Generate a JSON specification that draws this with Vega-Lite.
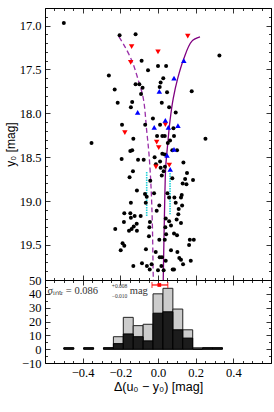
{
"$schema": "https://vega.github.io/schema/vega-lite/v6.json",
"padding": {"left": 3, "top": 7, "right": 4, "bottom": 5},
"background": "white",
"spacing": 0,
"bounds": "flush",
"config": {
  "view": {"stroke": "#000", "strokeWidth": 1},
  "axis": {"domain": false, "grid": false, "labelFont": "Liberation Serif", "labelFontSize": 12.5, "labelColor": "#000", "tickColor": "#000", "tickWidth": 0.8, "titleFont": "Liberation Sans", "titleFontWeight": "normal", "titleFontSize": 12, "titleColor": "#000", "labelOverlap": false, "labelFlush": false}
},
"datasets": {
  "dots": [
    {"x": -0.5, "y": 16.97}, {"x": -0.204, "y": 17.11}, {"x": -0.119, "y": 17.1}, {"x": 0.326, "y": 17.34}, {"x": -0.087, "y": 17.4}, {"x": -0.053, "y": 17.51}, {"x": 0.0, "y": 17.46}, {"x": 0.043, "y": 17.46}, {"x": -0.261, "y": 17.57}, {"x": 0.028, "y": 17.6}, {"x": 0.014, "y": 17.65}, {"x": -0.119, "y": 17.67}, {"x": -0.099, "y": 17.67}, {"x": -0.082, "y": 17.71}, {"x": 0.009, "y": 17.7}, {"x": -0.23, "y": 17.73}, {"x": -0.09, "y": 17.78}, {"x": 0.048, "y": 17.76}, {"x": 0.179, "y": 17.75}, {"x": -0.214, "y": 17.88}, {"x": -0.137, "y": 17.87}, {"x": 0.02, "y": 17.88}, {"x": -0.144, "y": 17.93}, {"x": 0.059, "y": 17.93}, {"x": 0.094, "y": 17.99}, {"x": -0.191, "y": 18.13}, {"x": -0.068, "y": 18.13}, {"x": -0.027, "y": 18.06}, {"x": 0.011, "y": 18.13}, {"x": 0.082, "y": 18.17}, {"x": -0.353, "y": 18.34}, {"x": 0.252, "y": 18.29}, {"x": -0.131, "y": 18.29}, {"x": -0.005, "y": 18.26}, {"x": 0.023, "y": 18.26}, {"x": 0.036, "y": 18.26}, {"x": 0.085, "y": 18.26}, {"x": 0.064, "y": 18.31}, {"x": 0.052, "y": 18.34}, {"x": -0.137, "y": 18.42}, {"x": -0.147, "y": 18.43}, {"x": 0.076, "y": 18.42}, {"x": 0.101, "y": 18.42}, {"x": 0.023, "y": 18.46}, {"x": 0.036, "y": 18.47}, {"x": -0.193, "y": 18.52}, {"x": -0.106, "y": 18.53}, {"x": -0.076, "y": 18.53}, {"x": -0.018, "y": 18.5}, {"x": 0.011, "y": 18.55}, {"x": 0.135, "y": 18.56}, {"x": -0.011, "y": 18.58}, {"x": 0.037, "y": 18.61}, {"x": 0.014, "y": 18.62}, {"x": 0.03, "y": 18.66}, {"x": -0.133, "y": 18.66}, {"x": 0.154, "y": 18.68}, {"x": -0.151, "y": 18.73}, {"x": 0.02, "y": 18.71}, {"x": 0.076, "y": 18.74}, {"x": 0.144, "y": 18.75}, {"x": 0.186, "y": 18.76}, {"x": -0.041, "y": 18.77}, {"x": 0.131, "y": 18.8}, {"x": 0.151, "y": 18.81}, {"x": -0.112, "y": 18.88}, {"x": -0.069, "y": 18.92}, {"x": -0.021, "y": 18.91}, {"x": 0.05, "y": 18.91}, {"x": 0.126, "y": 18.93}, {"x": -0.06, "y": 18.95}, {"x": 0.059, "y": 18.96}, {"x": 0.087, "y": 18.96}, {"x": 0.122, "y": 18.96}, {"x": -0.144, "y": 19.02}, {"x": -0.065, "y": 19.02}, {"x": 0.007, "y": 19.05}, {"x": 0.094, "y": 19.02}, {"x": 0.128, "y": 19.05}, {"x": -0.007, "y": 19.11}, {"x": 0.11, "y": 19.09}, {"x": -0.179, "y": 19.14}, {"x": -0.147, "y": 19.14}, {"x": -0.124, "y": 19.17}, {"x": -0.092, "y": 19.17}, {"x": -0.144, "y": 19.19}, {"x": 0.108, "y": 19.15}, {"x": 0.041, "y": 19.2}, {"x": 0.059, "y": 19.23}, {"x": 0.099, "y": 19.21}, {"x": -0.181, "y": 19.24}, {"x": -0.113, "y": 19.26}, {"x": -0.043, "y": 19.24}, {"x": 0.122, "y": 19.25}, {"x": -0.129, "y": 19.29}, {"x": -0.227, "y": 19.32}, {"x": -0.154, "y": 19.34}, {"x": -0.14, "y": 19.32}, {"x": -0.112, "y": 19.34}, {"x": 0.039, "y": 19.3}, {"x": 0.069, "y": 19.28}, {"x": -0.046, "y": 19.3}, {"x": 0.085, "y": 19.37}, {"x": 0.101, "y": 19.39}, {"x": 0.043, "y": 19.38}, {"x": -0.048, "y": 19.4}, {"x": 0.007, "y": 19.44}, {"x": 0.036, "y": 19.44}, {"x": 0.169, "y": 19.44}, {"x": 0.19, "y": 19.44}, {"x": 0.165, "y": 19.5}, {"x": -0.188, "y": 19.48}, {"x": -0.179, "y": 19.51}, {"x": -0.198, "y": 19.56}, {"x": -0.064, "y": 19.55}, {"x": 0.069, "y": 19.56}, {"x": -0.012, "y": 19.58}, {"x": 0.103, "y": 19.58}, {"x": 0.021, "y": 19.64}, {"x": 0.009, "y": 19.64}, {"x": 0.113, "y": 19.65}, {"x": 0.122, "y": 19.67}, {"x": 0.041, "y": 19.68}, {"x": 0.174, "y": 19.68}, {"x": -0.085, "y": 19.71}, {"x": -0.034, "y": 19.72}, {"x": 0.133, "y": 19.72}, {"x": -0.131, "y": 19.74}, {"x": -0.059, "y": 19.74}, {"x": 0.018, "y": 19.74}, {"x": 0.078, "y": 19.78}, {"x": 0.085, "y": 19.78}, {"x": 0.0, "y": 19.79}, {"x": -0.044, "y": 19.78}, {"x": 0.03, "y": 19.79}
  ],
  "red": [
    {"x": 0.158, "y": 17.12}, {"x": -0.14, "y": 17.24}, {"x": 0.0, "y": 17.3}, {"x": -0.145, "y": 17.42}, {"x": -0.176, "y": 18.22}, {"x": 0.039, "y": 18.13}, {"x": -0.007, "y": 18.33}, {"x": 0.004, "y": 18.39}, {"x": 0.06, "y": 18.59}, {"x": -0.011, "y": 18.61}
  ],
  "blue": [
    {"x": 0.137, "y": 17.4}, {"x": 0.085, "y": 17.6}, {"x": 0.007, "y": 17.75}, {"x": -0.108, "y": 17.99}, {"x": 0.039, "y": 18.08}, {"x": -0.02, "y": 18.16}, {"x": 0.055, "y": 18.16}, {"x": 0.106, "y": 18.14}, {"x": 0.085, "y": 18.41}, {"x": 0.048, "y": 18.48}, {"x": 0.065, "y": 18.64}
  ],
  "dashed": [
    {"x": -0.207, "y": 17.13}, {"x": -0.176, "y": 17.24}, {"x": -0.137, "y": 17.41}, {"x": -0.105, "y": 17.62}, {"x": -0.078, "y": 17.83}, {"x": -0.06, "y": 18.2}, {"x": -0.048, "y": 18.46}, {"x": -0.037, "y": 18.84}, {"x": -0.03, "y": 19.26}, {"x": -0.025, "y": 19.87}, {"x": -0.024, "y": 19.9}
  ],
  "solid": [
    {"x": 0.223, "y": 17.13}, {"x": 0.179, "y": 17.18}, {"x": 0.135, "y": 17.39}, {"x": 0.105, "y": 17.6}, {"x": 0.081, "y": 17.83}, {"x": 0.064, "y": 18.08}, {"x": 0.052, "y": 18.34}, {"x": 0.041, "y": 18.61}, {"x": 0.037, "y": 18.88}, {"x": 0.034, "y": 19.18}, {"x": 0.028, "y": 19.87}, {"x": 0.028, "y": 19.9}
  ],
  "cyan": [
    {"x": -0.06, "y1": 18.67, "y2": 19.17}, {"x": 0.064, "y1": 18.68, "y2": 19.15}
  ],
  "hist": [
    {"x0": -0.5, "x1": -0.44737, "total": 1, "dark": 1},
    {"x0": -0.39474, "x1": -0.34211, "total": 1, "dark": 1},
    {"x0": -0.28947, "x1": -0.23684, "total": 1, "dark": 1},
    {"x0": -0.23684, "x1": -0.18421, "total": 9, "dark": 4},
    {"x0": -0.18421, "x1": -0.13158, "total": 23, "dark": 11},
    {"x0": -0.13158, "x1": -0.07895, "total": 17, "dark": 9},
    {"x0": -0.07895, "x1": -0.02632, "total": 18, "dark": 6},
    {"x0": -0.02632, "x1": 0.02632, "total": 40, "dark": 26},
    {"x0": 0.02632, "x1": 0.07895, "total": 44, "dark": 27},
    {"x0": 0.07895, "x1": 0.13158, "total": 29, "dark": 14},
    {"x0": 0.13158, "x1": 0.18421, "total": 14, "dark": 8},
    {"x0": 0.18421, "x1": 0.23684, "total": 1, "dark": 0},
    {"x0": 0.23684, "x1": 0.28947, "total": 1, "dark": 1},
    {"x0": 0.28947, "x1": 0.34211, "total": 1, "dark": 1}
  ],
  "err": [{"x": 0.007, "lo": -0.032, "hi": 0.052, "y": 46.4}],
  "notes": [
    {"x": -0.587, "y": 42, "part": "main", "text": "σᵢₙₜᵣ = 0.086"},
    {"x": -0.245, "y": 42, "part": "sup", "text": "+0.008"},
    {"x": -0.245, "y": 42, "part": "sub", "text": "−0.010"},
    {"x": -0.15, "y": 42, "part": "unit", "text": "mag"}
  ]
},
"vconcat": [
  {
    "width": 226, "height": 272,
    "resolve": {"axis": {"x": "independent", "y": "independent"}},
    "layer": [
      {
        "mark": {"type": "rule", "color": "#808080", "strokeWidth": 1.5},
        "encoding": {"x": {"datum": 0, "type": "quantitative", "axis": null, "scale": {"domain": [-0.6, 0.6], "nice": false, "zero": false}}}
      },
      {
        "data": {"name": "cyan"},
        "mark": {"type": "rule", "color": "#20d0d8", "strokeWidth": 1.6, "strokeDash": [1.5, 1]},
        "encoding": {
          "x": {"field": "x", "type": "quantitative", "scale": {"domain": [-0.6, 0.6], "nice": false, "zero": false},
            "axis": {"orient": "top", "labels": false, "title": null, "tickSize": -2.5, "values": [-0.55,-0.5,-0.45,-0.35,-0.3,-0.25,-0.15,-0.1,-0.05,0.05,0.1,0.15,0.25,0.3,0.35,0.45,0.5,0.55]}},
          "y": {"field": "y1", "type": "quantitative", "scale": {"domain": [16.8, 19.9], "nice": false, "zero": false, "reverse": true},
            "axis": {"orient": "right", "labels": false, "title": null, "tickSize": -2.5, "values": [16.8,16.9,17.1,17.2,17.3,17.4,17.6,17.7,17.8,17.9,18.1,18.2,18.3,18.4,18.6,18.7,18.8,18.9,19.1,19.2,19.3,19.4,19.6,19.7,19.8,19.9]}},
          "y2": {"field": "y2"}
        }
      },
      {
        "data": {"name": "dashed"},
        "mark": {"type": "line", "color": "#9a2fa8", "strokeWidth": 1.3, "strokeDash": [5, 3], "interpolate": "catmull-rom"},
        "encoding": {
          "x": {"field": "x", "type": "quantitative", "axis": null},
          "y": {"field": "y", "type": "quantitative", "axis": null},
          "order": {"field": "y", "type": "quantitative"}
        }
      },
      {
        "data": {"name": "solid"},
        "mark": {"type": "line", "color": "#800080", "strokeWidth": 1.3, "interpolate": "catmull-rom"},
        "encoding": {
          "x": {"field": "x", "type": "quantitative", "axis": null},
          "y": {"field": "y", "type": "quantitative", "axis": null},
          "order": {"field": "y", "type": "quantitative"}
        }
      },
      {
        "data": {"name": "dots"},
        "mark": {"type": "circle", "color": "#000", "size": 16, "opacity": 1},
        "encoding": {
          "x": {"field": "x", "type": "quantitative",
            "axis": {"orient": "bottom", "labels": false, "title": null, "tickSize": -5, "values": [-0.6,-0.4,-0.2,0,0.2,0.4,0.6]}},
          "y": {"field": "y", "type": "quantitative",
            "axis": {"orient": "left", "title": "y₀ [mag]", "titlePadding": 2, "format": ".1f", "tickSize": -5, "labelPadding": 9, "values": [17.0,17.5,18.0,18.5,19.0,19.5]}}
        }
      },
      {
        "data": {"name": "red"},
        "mark": {"type": "point", "shape": "triangle-down", "filled": true, "color": "#ff0000", "size": 30, "opacity": 1},
        "encoding": {
          "x": {"field": "x", "type": "quantitative", "axis": {"orient": "top", "labels": false, "title": null, "tickSize": -5, "values": [-0.6,-0.4,-0.2,0,0.2,0.4,0.6]}},
          "y": {"field": "y", "type": "quantitative", "axis": {"orient": "right", "labels": false, "title": null, "tickSize": -5, "values": [17.0,17.5,18.0,18.5,19.0,19.5]}}
        }
      },
      {
        "data": {"name": "blue"},
        "mark": {"type": "point", "shape": "triangle-up", "filled": true, "color": "#0000ff", "size": 30, "opacity": 1},
        "encoding": {
          "x": {"field": "x", "type": "quantitative", "axis": {"orient": "bottom", "labels": false, "title": null, "tickSize": -2.5, "values": [-0.55,-0.5,-0.45,-0.35,-0.3,-0.25,-0.15,-0.1,-0.05,0.05,0.1,0.15,0.25,0.3,0.35,0.45,0.5,0.55]}},
          "y": {"field": "y", "type": "quantitative", "axis": {"orient": "left", "labels": false, "title": null, "tickSize": -2.5, "values": [16.8,16.9,17.1,17.2,17.3,17.4,17.6,17.7,17.8,17.9,18.1,18.2,18.3,18.4,18.6,18.7,18.8,18.9,19.1,19.2,19.3,19.4,19.6,19.7,19.8,19.9]}}
        }
      }
    ]
  },
  {
    "width": 226, "height": 83,
    "resolve": {"axis": {"x": "independent", "y": "independent"}},
    "layer": [
      {
        "mark": {"type": "rule", "color": "#8c8c8c", "strokeWidth": 2},
        "encoding": {
          "x": {"datum": -0.5, "type": "quantitative", "axis": null, "scale": {"domain": [-0.6, 0.6], "nice": false, "zero": false}},
          "x2": {"datum": 0.5},
          "y": {"datum": 0, "type": "quantitative", "axis": null, "scale": {"domain": [-10, 50], "nice": false, "zero": false}}
        }
      },
      {
        "data": {"name": "hist"},
        "mark": {"type": "rect", "fill": "#cccccc", "stroke": "#222", "strokeWidth": 1},
        "encoding": {
          "x": {"field": "x0", "type": "quantitative",
            "axis": {"orient": "bottom", "title": "Δ(u₀ − y₀) [mag]", "titleFontSize": 12.5, "titlePadding": 2, "format": ".1f", "tickSize": -5, "labelPadding": 8, "values": [-0.6,-0.4,-0.2,0,0.2,0.4,0.6],
              "labelExpr": "abs(datum.value) < 0.5 ? datum.label : ''"}},
          "x2": {"field": "x1"},
          "y": {"field": "total", "type": "quantitative",
            "axis": {"orient": "left", "title": null, "format": "d", "tickSize": -5, "labelPadding": 9, "values": [-10,0,10,20,30,40,50]}},
          "y2": {"datum": 0}
        }
      },
      {
        "data": {"name": "hist"},
        "mark": {"type": "rect", "fill": "#1c1c1c", "stroke": "#000", "strokeWidth": 1},
        "encoding": {
          "x": {"field": "x0", "type": "quantitative",
            "axis": {"orient": "top", "labels": false, "title": null, "tickSize": -5, "values": [-0.6,-0.4,-0.2,0,0.2,0.4,0.6]}},
          "x2": {"field": "x1"},
          "y": {"field": "dark", "type": "quantitative",
            "axis": {"orient": "right", "labels": false, "title": null, "tickSize": -5, "values": [-10,0,10,20,30,40,50]}},
          "y2": {"datum": 0}
        }
      },
      {
        "data": {"name": "err"},
        "mark": {"type": "rule", "color": "#ff0000", "strokeWidth": 1.2},
        "encoding": {
          "x": {"field": "lo", "type": "quantitative", "axis": {"orient": "bottom", "labels": false, "title": null, "tickSize": -2.5, "values": [-0.55,-0.5,-0.45,-0.35,-0.3,-0.25,-0.15,-0.1,-0.05,0.05,0.1,0.15,0.25,0.3,0.35,0.45,0.5,0.55]}},
          "x2": {"field": "hi"},
          "y": {"field": "y", "type": "quantitative", "axis": {"orient": "left", "labels": false, "title": null, "tickSize": -2.5, "values": [-5,5,15,25,35,45]}}
        }
      },
      {
        "data": {"name": "err"},
        "mark": {"type": "tick", "orient": "vertical", "color": "#ff0000", "size": 6, "thickness": 1.2},
        "encoding": {
          "x": {"field": "lo", "type": "quantitative", "axis": null},
          "y": {"field": "y", "type": "quantitative", "axis": null}
        }
      },
      {
        "data": {"name": "err"},
        "mark": {"type": "tick", "orient": "vertical", "color": "#ff0000", "size": 6, "thickness": 1.2},
        "encoding": {
          "x": {"field": "hi", "type": "quantitative", "axis": null},
          "y": {"field": "y", "type": "quantitative", "axis": null}
        }
      },
      {
        "data": {"name": "err"},
        "mark": {"type": "square", "color": "#ff0000", "size": 14, "opacity": 1},
        "encoding": {
          "x": {"field": "x", "type": "quantitative", "axis": {"orient": "top", "labels": false, "title": null, "tickSize": -2.5, "values": [-0.55,-0.5,-0.45,-0.35,-0.3,-0.25,-0.15,-0.1,-0.05,0.05,0.1,0.15,0.25,0.3,0.35,0.45,0.5,0.55]}},
          "y": {"field": "y", "type": "quantitative", "axis": {"orient": "right", "labels": false, "title": null, "tickSize": -2.5, "values": [-5,5,15,25,35,45]}}
        }
      },
      {
        "data": {"name": "notes"},
        "transform": [{"filter": "datum.part == 'main' || datum.part == 'unit'"}],
        "mark": {"type": "text", "align": "left", "baseline": "middle", "font": "Liberation Serif", "fontSize": 10.5, "color": "#333"},
        "encoding": {
          "x": {"field": "x", "type": "quantitative", "axis": null},
          "y": {"field": "y", "type": "quantitative", "axis": null},
          "text": {"field": "text"}
        }
      },
      {
        "data": {"name": "notes"},
        "transform": [{"filter": "datum.part == 'sup'"}],
        "mark": {"type": "text", "align": "left", "baseline": "middle", "font": "Liberation Serif", "fontSize": 5.5, "dy": -5, "color": "#333"},
        "encoding": {
          "x": {"field": "x", "type": "quantitative", "axis": null},
          "y": {"field": "y", "type": "quantitative", "axis": null},
          "text": {"field": "text"}
        }
      },
      {
        "data": {"name": "notes"},
        "transform": [{"filter": "datum.part == 'sub'"}],
        "mark": {"type": "text", "align": "left", "baseline": "middle", "font": "Liberation Serif", "fontSize": 5.5, "dy": 5, "color": "#333"},
        "encoding": {
          "x": {"field": "x", "type": "quantitative", "axis": null},
          "y": {"field": "y", "type": "quantitative", "axis": null},
          "text": {"field": "text"}
        }
      }
    ]
  }
]
}
